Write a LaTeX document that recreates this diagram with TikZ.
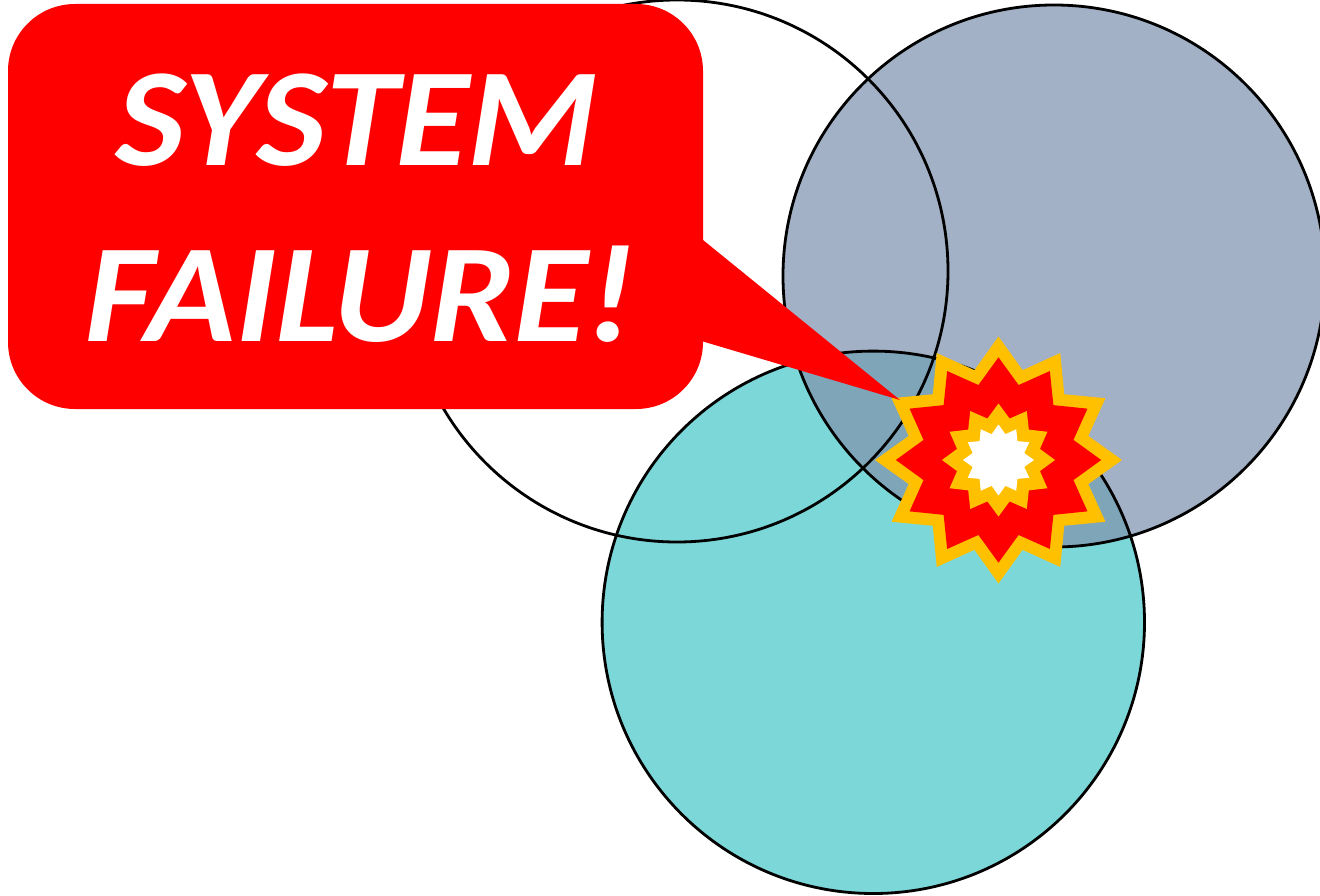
\documentclass[tikz,border=0pt]{standalone}
\usepackage{fontspec}
\setmainfont{Carlito}
\definecolor{bluefill}{HTML}{A2B1C5}
\definecolor{tealfill}{HTML}{7CD7D9}
\definecolor{overlapfill}{HTML}{7FA5B9}
\definecolor{burstorange}{HTML}{FFC000}
\tikzset{
  ring/.style={draw=black,line width=2.8pt},
  shout/.style={text=white,font=\fontsize{140pt}{140pt}\selectfont\bfseries\itshape,inner sep=0pt,anchor=base,xslant=.03,transform shape}
}
\newcommand{\burstpath}[3]{\fill[#1] plot[samples at={0,1,...,23}] ({90+15*\x}:{mod(\x,2)==0 ? #2 : #3}) -- cycle;}
\begin{document}
\begin{tikzpicture}[x=1pt,y=-1pt]
\useasboundingbox (0,0) rectangle (1320,896);
\clip (0,0) rectangle (1320,896);
% fills
\fill[bluefill] (1054,276) circle[radius=271];
\fill[tealfill] (873.3,622.3) circle[radius=271.2];
\begin{scope}
  \clip (1054,276) circle[radius=271];
  \fill[overlapfill] (873.3,622.3) circle[radius=271.2];
\end{scope}
% outlines
\draw[ring] (677,271) circle[radius=271];
\draw[ring] (1054,276) circle[radius=271];
\draw[ring] (873.3,622.3) circle[radius=271.2];
% burst
\begin{scope}[shift={(998.5,460)}]
  \burstpath{burstorange}{123.5}{93}
  \burstpath{red}{102.7}{77.6}
  \burstpath{burstorange}{56.5}{42.9}
  \burstpath{white}{35.5}{26.7}
\end{scope}
% callout
\fill[red,rounded corners=67pt] (8,4) -- (703,4) -- (703,409) -- (8,409) -- cycle;
\fill[red] (700,240) -- (703,240) -- (900,400) -- (703,341.5) -- (700,341.5) -- cycle;
\node (line1) at (356,166) [shout,xscale=1.05] {SYSTEM};
\node (line2) at (359,341) [shout,xscale=1.06] {FAILURE!};
\end{tikzpicture}
\end{document}
